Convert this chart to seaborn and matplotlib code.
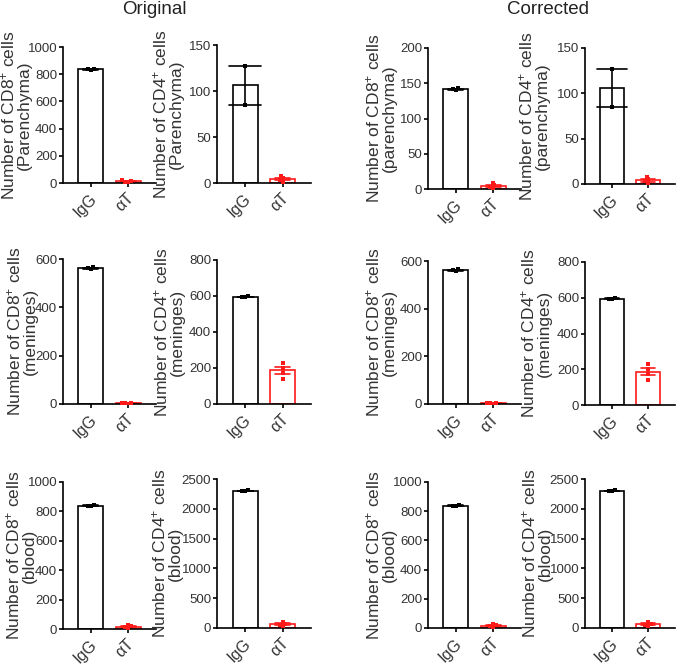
import numpy as np
import pandas as pd
import matplotlib
matplotlib.use("Agg")
import matplotlib.pyplot as plt
import matplotlib.transforms as mtransforms
import seaborn as sns

sns.set_style("ticks")
plt.rcParams["font.family"] = ["Liberation Sans", "DejaVu Sans"]
plt.rcParams["mathtext.fontset"] = "custom"
plt.rcParams["mathtext.rm"] = "Liberation Sans"
plt.rcParams["mathtext.default"] = "regular"

# ---------------- data ----------------
groups = ["IgG", "αT"]
group_colors = ["black", "#FF1A1A"]
column_titles = ["Original", "Corrected"]

# Original
orig_cd8_par_igg = [830, 835, 840]
orig_cd8_par_at = [5, 10, 15, 22]
orig_cd4_par_igg = [85, 127]
orig_cd4_par_at = [1, 3, 5, 8]
orig_cd8_men_igg = [558, 562, 566]
orig_cd8_men_at = [2, 3, 3, 4]
orig_cd4_men_igg = [592, 595, 598]
orig_cd4_men_at = [230, 200, 175, 140]
orig_cd8_blood_igg = [834, 838, 842]
orig_cd8_blood_at = [5, 12, 18, 28]
orig_cd4_blood_igg = [2295, 2302, 2308]
orig_cd4_blood_at = [40, 55, 70, 95]

# Corrected
corr_cd8_par_igg = [140, 141.5, 143]
corr_cd8_par_at = [1, 3, 5, 9]
corr_cd4_par_igg = [85, 127]
corr_cd4_par_at = [1, 3, 5, 8]
corr_cd8_men_igg = [558, 562, 566]
corr_cd8_men_at = [2, 3, 3, 4]
corr_cd4_men_igg = [592, 595, 598]
corr_cd4_men_at = [230, 200, 175, 140]
corr_cd8_blood_igg = [834, 838, 842]
corr_cd8_blood_at = [5, 12, 18, 28]
corr_cd4_blood_igg = [2295, 2302, 2308]
corr_cd4_blood_at = [40, 55, 70, 95]

y_max = [[1000, 150, 200, 150],
         [600, 800, 600, 800],
         [1000, 2500, 1000, 2500]]
y_step = [[200, 50, 50, 50],
          [200, 200, 200, 200],
          [200, 500, 200, 500]]

cd8_label = "Number of CD8$^{+}$ cells"
cd4_label = "Number of CD4$^{+}$ cells"
tissue_labels = [["(Parenchyma)", "(Parenchyma)", "(parenchyma)", "(parenchyma)"],
                 ["(meninges)"] * 4,
                 ["(blood)"] * 4]

panel_data = [
    [(orig_cd8_par_igg, orig_cd8_par_at), (orig_cd4_par_igg, orig_cd4_par_at),
     (corr_cd8_par_igg, corr_cd8_par_at), (corr_cd4_par_igg, corr_cd4_par_at)],
    [(orig_cd8_men_igg, orig_cd8_men_at), (orig_cd4_men_igg, orig_cd4_men_at),
     (corr_cd8_men_igg, corr_cd8_men_at), (corr_cd4_men_igg, corr_cd4_men_at)],
    [(orig_cd8_blood_igg, orig_cd8_blood_at), (orig_cd4_blood_igg, orig_cd4_blood_at),
     (corr_cd8_blood_igg, corr_cd8_blood_at), (corr_cd4_blood_igg, corr_cd4_blood_at)],
]

# ---------------- layout (pixels) ----------------
W, H = 685, 665
col_left = [63, 217, 428, 585]
col_width = [93, 94, 93, 90]
row_tb = [[(47, 183), (45, 183), (48, 189), (48, 184)],
          [(259, 404), (260, 404), (261, 404), (262, 405)],
          [(482, 629), (479, 628), (482, 628), (479, 628)]]
# right edge (pixels) of the two-line y labels
label_right = [[32, 184, 397, 550],
               [38, 185, 397, 552],
               [37, 183, 397, 553]]

TEXT = "#333333"
LW = 1.2

fig = plt.figure(figsize=(W / 100, H / 100), dpi=100)
shift = mtransforms.ScaledTranslation(9 / 100, 0, fig.dpi_scale_trans)

for r in range(3):
    for c in range(4):
        top, bot = row_tb[r][c]
        l = col_left[c]
        ax = fig.add_axes([l / W, 1 - bot / H, col_width[c] / W, (bot - top) / H])
        igg, at = panel_data[r][c]
        df = pd.DataFrame({"group": ["IgG"] * len(igg) + ["αT"] * len(at),
                           "value": list(igg) + list(at)})
        big_cap = (r == 0 and c in (1, 3))
        for g, col in zip(groups, group_colors):
            sub = df[df["group"] == g]
            cap = 0.85 if (big_cap and g == "IgG") else 0.4
            sns.barplot(data=sub, x="group", y="value", order=groups, ax=ax,
                        fill=False, color=col, errorbar="se", capsize=cap,
                        err_kws={"color": col, "linewidth": LW},
                        linewidth=LW, width=0.67)
            sns.swarmplot(data=sub, x="group", y="value", order=groups, ax=ax,
                          color=col, marker="s", size=2.2, linewidth=0)
        ax.set_xlim(-0.75, 1.75)
        ax.set_ylim(0, y_max[r][c])
        ax.set_yticks(np.arange(0, y_max[r][c] + 1, y_step[r][c]))
        ax.set_xlabel("")
        lab = (cd8_label if c % 2 == 0 else cd4_label) + "\n" + tissue_labels[r][c]
        ax.set_ylabel(lab, fontsize=12.5, color=TEXT, linespacing=0.95)
        ax.yaxis.set_label_coords((label_right[r][c] - l) / col_width[c], 0.5)
        sns.despine(ax=ax)
        for s in ("left", "bottom"):
            ax.spines[s].set_linewidth(LW)
            ax.spines[s].set_color("black")
        ax.tick_params(axis="both", direction="out", length=3, width=LW,
                       color="black", labelcolor=TEXT, labelsize=9.5, pad=1.2)
        ax.set_xticks([0, 1])
        ax.set_xticklabels(groups, rotation=45, ha="right", va="top",
                           rotation_mode="default", fontsize=11.5)
        ax.tick_params(axis="x", pad=2.5)
        for t in ax.get_xticklabels():
            t.set_transform(t.get_transform() + shift)

fig.text(154 / W, 1 - 9 / H, column_titles[0], ha="center", va="center",
         fontsize=13.5, color="#222222")
fig.text(548 / W, 1 - 9 / H, column_titles[1], ha="center", va="center",
         fontsize=13.5, color="#222222")

fig.savefig("out.png", dpi=100)
